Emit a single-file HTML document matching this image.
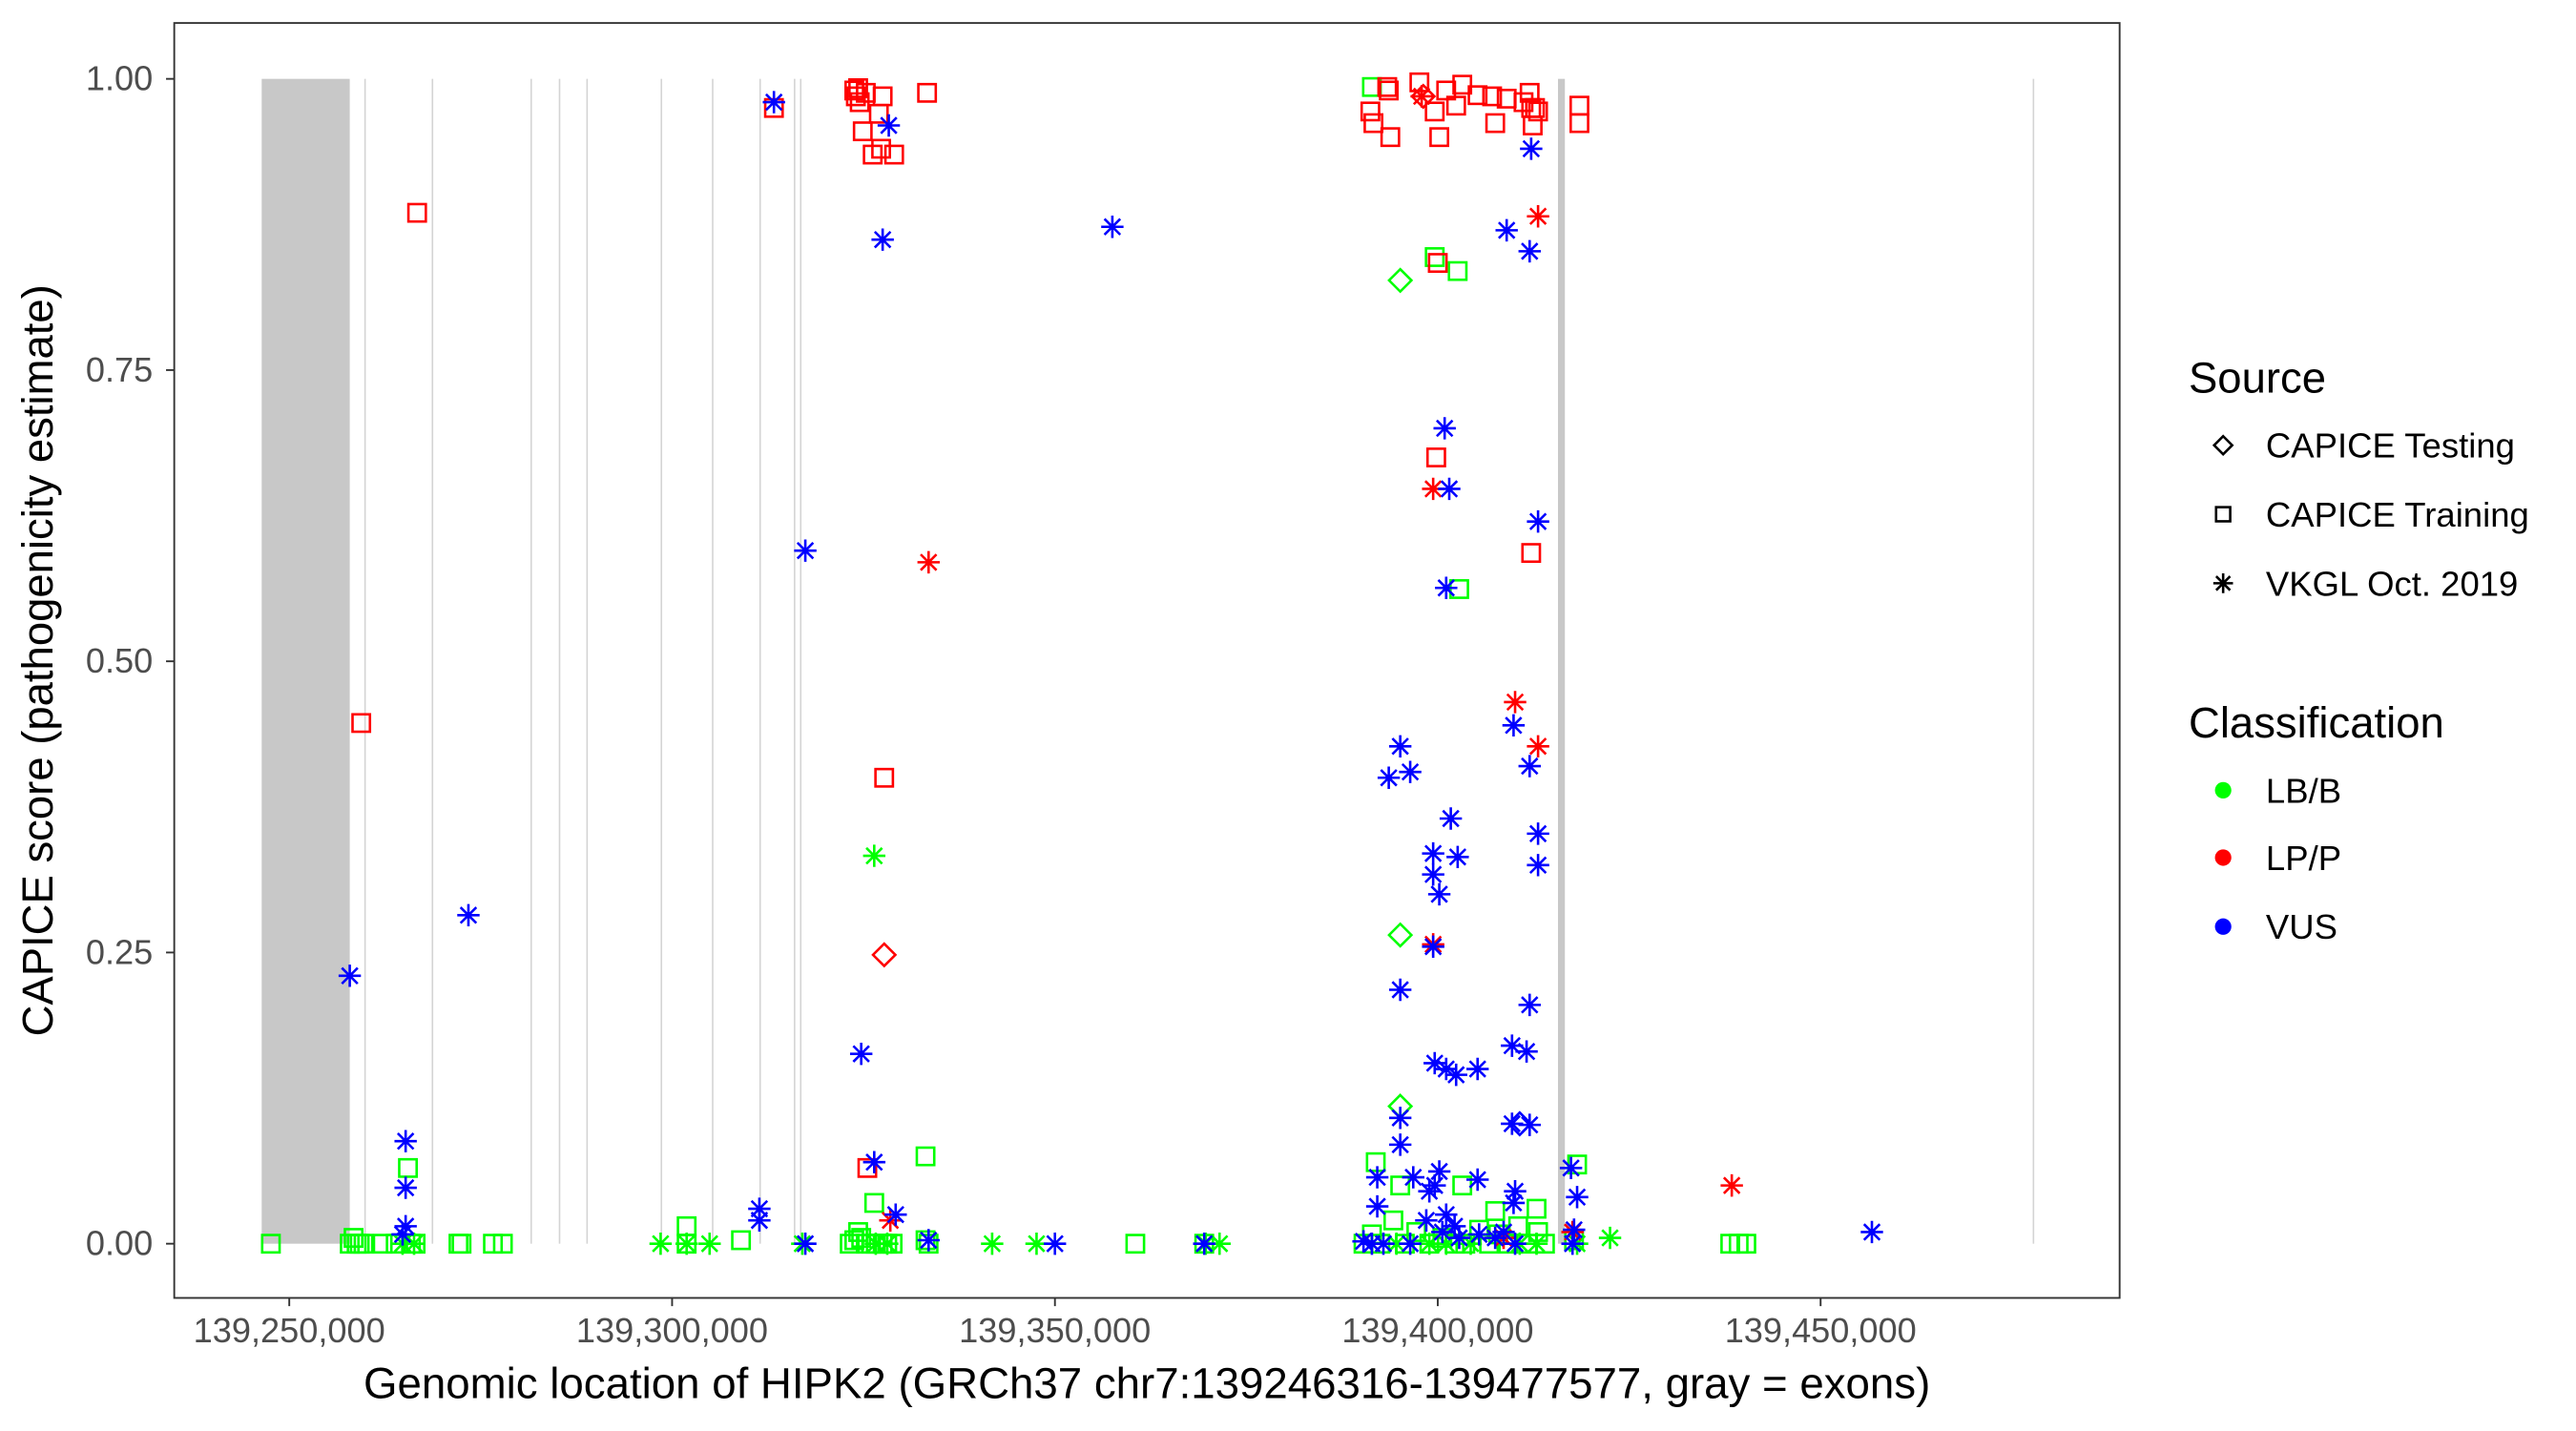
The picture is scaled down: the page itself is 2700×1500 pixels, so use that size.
<!DOCTYPE html>
<html><head><meta charset="utf-8"><style>html,body{margin:0;padding:0;background:#fff}svg{display:block}</style></head>
<body>
<svg id="chart" width="2700" height="1500" viewBox="0 0 1567.7 871" xmlns="http://www.w3.org/2000/svg" font-family="'Liberation Sans', sans-serif">
<rect x="0" y="0" width="1570" height="875" fill="#fff"/>
<g id="exons"></g>
<g id="points"></g>
<rect x="106" y="14" width="1184" height="776" fill="none" stroke="#333" stroke-width="1.1"/>
<g id="axes"></g>
<text x="698" y="851" font-size="26.5" text-anchor="middle" fill="#000">Genomic location of HIPK2 (GRCh37 chr7:139246316-139477577, gray = exons)</text>
<text transform="translate(32,402) rotate(-90)" font-size="26.4" text-anchor="middle" fill="#000">CAPICE score (pathogenicity estimate)</text>
<g id="legend">
<text x="1332" y="239" font-size="26.4" fill="#000">Source</text>
<text x="1332" y="449" font-size="26.4" fill="#000">Classification</text>
</g>
</svg>
<script>
// positions in kb relative to 139,250 kb (chr7)
const TICK_VALUES = [0, 50, 100, 150, 200];
const TICK_LABELS = ["139,250,000","139,300,000","139,350,000","139,400,000","139,450,000"];
const Y_TICKS = [0, 0.25, 0.5, 0.75, 1.0];
const Y_LABELS = ["0.00","0.25","0.50","0.75","1.00"];
const EXON_START = [-3.6, 9.8, 18.6, 31.5, 35.2, 38.8, 48.5, 55.2, 61.4, 65.9, 66.7, 165.7, 227.7];
const EXON_END   = [7.9, 10.0, 18.8, 31.7, 35.4, 39.0, 48.7, 55.4, 61.6, 66.1, 66.9, 166.6, 227.9];

// Training, LP/P
const trainLP_x = [16.7,9.4,63.3,73.8,74.0,74.3,74.5,74.9,75.3,76.2,77.0,77.5,77.3,79.0,83.3,77.7,75.5,141.2,141.6,143.4,143.6,143.8,147.6,149.6,150.2,151.1,152.4,153.2,155.2,157.1,157.5,159.0,161.2,162.0,162.2,162.4,162.7,163.1,168.5,168.5,149.8,162.2,150.0];
const trainLP_y = [0.885,0.447,0.975,0.99,0.985,0.992,0.98,0.955,0.988,0.935,0.97,0.985,0.94,0.935,0.988,0.40,0.065,0.972,0.962,0.993,0.99,0.95,0.997,0.972,0.95,0.99,0.977,0.995,0.986,0.985,0.962,0.983,0.98,0.988,0.975,0.96,0.975,0.972,0.977,0.962,0.675,0.593,0.842];
// Training, LB/B
const trainLB_x = [141.4,149.6,152.6,152.8,15.5,83.1,76.4,141.9,145.1,153.2,168.2,162.9,157.5,-2.4,7.9,8.4,8.8,9.2,9.7,12.2,13.9,15.9,16.5,22.1,22.5,26.6,27.9,51.9,51.9,59.0,73.2,73.8,74.3,74.7,75.3,76.0,76.6,77.5,78.1,78.8,83.1,83.5,110.5,119.5,140.3,141.4,142.5,144.2,145.7,147.2,148.9,150.6,152.2,153.6,155.4,156.7,157.9,159.2,160.5,161.8,163.1,164.0,167.8,188.2,189.3,190.3];
const trainLB_y = [0.993,0.847,0.835,0.562,0.065,0.075,0.035,0.07,0.05,0.05,0.068,0.03,0.028,0,0,0.005,0,0,0,0,0,0,0,0,0,0,0,0,0.015,0.003,0,0.003,0.01,0.005,0,0,0,0,0,0,0.003,0,0,0,0,0.008,0,0.02,0,0.01,0,0.005,0,0,0.012,0,0.008,0,0.015,0,0.01,0,0.003,0,0,0];
// VKGL, LP/P
const vkglLP_x = [83.5,147.9,149.4,163.1,160.1,163.1,149.4,188.4,78.5,158.6,167.6];
const vkglLP_y = [0.585,0.985,0.648,0.882,0.465,0.427,0.257,0.05,0.02,0.005,0.01];
// VKGL, VUS
const vkglVUS_x = [63.3,78.3,77.5,107.5,67.4,7.9,23.4,15.2,15.2,15.2,14.8,74.7,76.4,79.2,61.4,61.4,67.4,83.5,100.0,119.5,206.7,162.2,159.0,162.0,150.9,151.5,163.1,151.1,159.9,145.1,146.4,143.6,162.0,163.1,151.7,149.4,152.6,163.1,149.4,150.2,149.4,145.1,162.0,159.7,161.6,149.6,151.1,152.4,155.2,159.7,162.0,145.1,145.1,142.1,146.8,150.2,149.6,155.2,167.4,168.2,142.1,148.9,151.1,160.1,159.9,148.5,150.6,152.2,140.3,141.4,142.9,146.4,152.8,155.4,157.5,158.6,160.1,167.8,167.6];
const vkglVUS_y = [0.98,0.96,0.862,0.873,0.595,0.23,0.282,0.088,0.048,0.015,0.008,0.163,0.07,0.025,0.03,0.02,0,0.003,0,0,0.01,0.94,0.87,0.852,0.70,0.648,0.62,0.563,0.445,0.427,0.405,0.40,0.41,0.352,0.365,0.335,0.332,0.325,0.317,0.30,0.255,0.218,0.205,0.17,0.165,0.155,0.15,0.145,0.15,0.103,0.102,0.108,0.085,0.057,0.057,0.062,0.05,0.055,0.065,0.04,0.032,0.045,0.025,0.045,0.035,0.02,0.01,0.015,0.002,0,0,0,0.005,0.008,0.005,0.01,0,0.012,0];
// VKGL, LB/B
const vkglLB_x = [76.4,51.9,54.9,48.5,67.0,91.8,97.6,121.5,119.7,172.5,78.1,76.6,14.8,16.3,148.9,151.1,154.3,160.7,162.9,168.2,144.6];
const vkglLB_y = [0.333,0,0,0,0,0,0,0,0,0.005,0,0,0,0,0,0,0,0,0,0,0];
// Testing
const testLB_x = [145.1,145.1,145.1];
const testLB_y = [0.827,0.265,0.118];
const testLP_x = [77.7,148.1];
const testLP_y = [0.248,0.985];
const testVUS_x = [160.7];
const testVUS_y = [0.103];

const NS = "http://www.w3.org/2000/svg";
function xs(v){ return 176 + v * 233 / 50; }
function ys(v){ return 757 - v * 709; }
function mk(tag, attrs, parent){ const e = document.createElementNS(NS, tag); for (const k in attrs) e.setAttribute(k, attrs[k]); parent.appendChild(e); return e; }

const exG = document.getElementById('exons');
for (let i = 0; i < EXON_START.length; i++) {
  const x0 = xs(EXON_START[i]), x1 = xs(EXON_END[i]);
  const r = mk('rect', {x: x0, y: ys(1), width: Math.max(0.8, x1 - x0), height: ys(0) - ys(1), fill: (x1 - x0) > 2 ? '#c8c8c8' : '#d4d4d4'}, exG);
  
  
}

const ax = document.getElementById('axes');
for (let i = 0; i < TICK_VALUES.length; i++) {
  const x = xs(TICK_VALUES[i]);
  const t = mk('line', {x1: x, x2: x, y1: 790, y2: 795, stroke: '#333', 'stroke-width': 1.1}, ax);
  
  
  const l = mk('text', {x: x, y: 817, 'font-size': 21, 'text-anchor': 'middle', fill: '#4d4d4d'}, ax);
  l.textContent = TICK_LABELS[i];
  
  
}
for (let i = 0; i < Y_TICKS.length; i++) {
  const y = ys(Y_TICKS[i]);
  const t = mk('line', {x1: 101, x2: 106, y1: y, y2: y, stroke: '#333', 'stroke-width': 1.1}, ax);
  
  
  const l = mk('text', {x: 93, y: y + 7, 'font-size': 21, 'text-anchor': 'end', fill: '#4d4d4d'}, ax);
  l.textContent = Y_LABELS[i];
  
  
}

const pg = document.getElementById('points');
function square(cx, cy, col, g, s){ return mk('rect', {x: cx - s, y: cy - s, width: 2*s, height: 2*s, fill: 'none', stroke: col, 'stroke-width': 1.5}, g); }
function diamond(cx, cy, col, g, s){ return mk('path', {d: `M${cx} ${cy-s}L${cx+s} ${cy}L${cx} ${cy+s}L${cx-s} ${cy}Z`, fill: 'none', stroke: col, 'stroke-width': 1.5}, g); }
function star(cx, cy, col, g, s){
  const d = s * 0.7071;
  return mk('path', {d: `M${cx-s} ${cy}H${cx+s}M${cx} ${cy-s}V${cy+s}M${cx-d} ${cy-d}L${cx+d} ${cy+d}M${cx-d} ${cy+d}L${cx+d} ${cy-d}`, fill: 'none', stroke: col, 'stroke-width': 1.5}, g);
}
function draw(xa, ya, shape, col, name){
  for (let i = 0; i < xa.length; i++) {
    let e;
    if (shape === 'sq') e = square(xs(xa[i]), ys(ya[i]), col, pg, 5.3);
    else if (shape === 'di') e = diamond(xs(xa[i]), ys(ya[i]), col, pg, 6.8);
    else e = star(xs(xa[i]), ys(ya[i]), col, pg, 6.8);
    
    
  }
}
draw(trainLB_x, trainLB_y, 'sq', '#00ff00', 'point-training-lbb');
draw(vkglLB_x, vkglLB_y, 'st', '#00ff00', 'point-vkgl-lbb');
draw(testLB_x, testLB_y, 'di', '#00ff00', 'point-testing-lbb');
draw(trainLP_x, trainLP_y, 'sq', '#ff0000', 'point-training-lpp');
draw(testLP_x, testLP_y, 'di', '#ff0000', 'point-testing-lpp');
draw(vkglLP_x, vkglLP_y, 'st', '#ff0000', 'point-vkgl-lpp');
draw(testVUS_x, testVUS_y, 'di', '#0000ff', 'point-testing-vus');
draw(vkglVUS_x, vkglVUS_y, 'st', '#0000ff', 'point-vkgl-vus');

const lg = document.getElementById('legend');
const SRC = ["CAPICE Testing", "CAPICE Training", "VKGL Oct. 2019"];
const SRC_Y = [271, 313, 355];
for (let i = 0; i < 3; i++) {
  let e;
  if (i === 0) e = diamond(1353, SRC_Y[i], '#000', lg, 5.5);
  else if (i === 1) e = square(1353, SRC_Y[i], '#000', lg, 4.3);
  else e = star(1353, SRC_Y[i], '#000', lg, 6);
  
  
  const t = mk('text', {x: 1379, y: SRC_Y[i] + 7.5, 'font-size': 21.2, fill: '#000'}, lg);
  t.textContent = SRC[i];
  
  
}
const CLS = ["LB/B", "LP/P", "VUS"];
const CLS_COL = ['#00ff00', '#ff0000', '#0000ff'];
const CLS_Y = [481, 522, 564];
for (let i = 0; i < 3; i++) {
  const c = mk('circle', {cx: 1353, cy: CLS_Y[i], r: 5, fill: CLS_COL[i]}, lg);
  
  
  const t = mk('text', {x: 1379, y: CLS_Y[i] + 7.5, 'font-size': 21.2, fill: '#000'}, lg);
  t.textContent = CLS[i];
  
  
}
</script>
</body></html>
